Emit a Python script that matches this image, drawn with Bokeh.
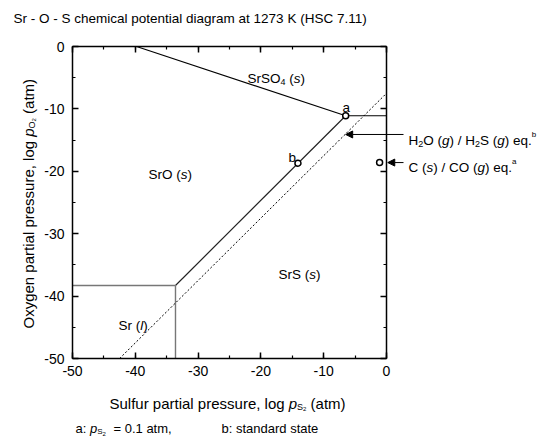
from bokeh.plotting import figure
from bokeh.models import (Label, Arrow, NormalHead, LinearAxis, SingleIntervalTicker, Range1d,
                          CustomJSTickFormatter)
from bokeh.embed import file_html
from bokeh.resources import INLINE
import math

# ---------------- data (log units) ----------------
x_range_vals = [-50, 0]
y_range_vals = [-50, 0]
tick_interval = 10

# phase boundaries: log pS2, log pO2
srso4_sro_x = [-39.8, -6.5]
srso4_sro_y = [0.0, -11.1]
srso4_srs_x = [-6.5, 0.0]
srso4_srs_y = [-11.1, -11.1]
sro_srs_x = [-6.5, -33.6]
sro_srs_y = [-11.1, -38.3]
sr_sro_x = [-50.0, -33.6]
sr_sro_y = [-38.3, -38.3]
sr_srs_x = [-33.6, -33.6]
sr_srs_y = [-38.3, -50.0]
h2o_h2s_x = [-42.5, 0.0]
h2o_h2s_y = [-50.0, -7.5]

point_names = ["a", "b"]
point_x = [-6.5, -14.1]
point_y = [-11.1, -18.7]

h2s_eq_point = (-6.6, -14.1)
c_co_x = [-1.1]
c_co_y = [-18.6]

FONT = "Liberation Sans"

# ---------------- geometry helpers ----------------
W, H = 545, 447
FX0, FX1 = 72, 386     # chart box in page pixels
FY0, FY1 = 46, 358
SX = (FX1 - FX0) / (x_range_vals[1] - x_range_vals[0])
SY = (FY1 - FY0) / (y_range_vals[1] - y_range_vals[0])

def px2x(px):
    return x_range_vals[0] + (px - FX0) / SX

def py2y(py):
    return y_range_vals[1] - (py - FY0) / SY

AW = {' ': 278, '!': 278, '(': 333, ')': 333, ',': 278, '-': 333, '.': 278, '/': 278,
      ':': 278, '=': 584}
for d in "0123456789":
    AW[d] = 556
AW.update({'A': 667, 'B': 667, 'C': 722, 'D': 722, 'E': 667, 'F': 611, 'G': 778, 'H': 722,
           'I': 278, 'J': 500, 'K': 667, 'L': 556, 'M': 833, 'N': 722, 'O': 778, 'P': 667,
           'Q': 778, 'R': 722, 'S': 667, 'T': 611, 'U': 722, 'V': 667, 'W': 944, 'X': 667,
           'Y': 667, 'Z': 611,
           'a': 556, 'b': 556, 'c': 500, 'd': 556, 'e': 556, 'f': 278, 'g': 556, 'h': 556,
           'i': 222, 'j': 222, 'k': 500, 'l': 222, 'm': 833, 'n': 556, 'o': 556, 'p': 556,
           'q': 556, 'r': 333, 's': 500, 't': 278, 'u': 556, 'v': 500, 'w': 722, 'x': 500,
           'y': 500, 'z': 500})

def tw(s, size):
    return sum(AW.get(c, 556) for c in s) * size / 1000.0

def rich(p, segs, x_px, base_px, rotated=False):
    """segs: (text, size, style, dy) ; dy>0 lowers (subscript)."""
    pos = base_px if rotated else x_px
    for text, size, style, dy in segs:
        lead = len(text) - len(text.lstrip(" "))
        shift = tw(" " * lead, size)
        body = text.strip(" ")
        start = pos - shift if rotated else pos + shift
        if body:
            if rotated:
                lx, ly, ang = x_px + dy, start, math.pi / 2
            else:
                lx, ly, ang = start, base_px + dy, 0
            p.add_layout(Label(x=px2x(lx), y=py2y(ly), text=body, text_font=FONT,
                               text_font_size=f"{size}px", text_font_style=style,
                               text_color="black", text_align="left",
                               text_baseline="alphabetic", angle=ang))
        if rotated:
            pos -= tw(text, size)
        else:
            pos += tw(text, size)

# ---------------- figure: frame spans the page, axes fixed on the chart box ----------------
p = figure(frame_width=W, frame_height=H,
           min_border_left=0, min_border_right=0, min_border_top=0, min_border_bottom=0,
           x_range=Range1d(px2x(0), px2x(W)), y_range=Range1d(py2y(H), py2y(0)),
           x_axis_type=None, y_axis_type=None,
           output_backend="svg", toolbar_location=None, title=None)
p.grid.visible = False
p.outline_line_color = None
p.background_fill_color = "white"
p.border_fill_color = "white"

fmt = CustomJSTickFormatter(code="return tick.toFixed(0);")

def make_axis(labels, loc, bounds):
    ax = LinearAxis(fixed_location=loc, bounds=bounds, formatter=fmt)
    ax.ticker = SingleIntervalTicker(interval=tick_interval, num_minor_ticks=2)
    ax.major_tick_in = 6
    ax.major_tick_out = 0
    ax.minor_tick_in = 3
    ax.minor_tick_out = 0
    ax.axis_line_width = 1.5
    ax.major_tick_line_width = 1.5
    ax.minor_tick_line_width = 1.2
    ax.axis_line_color = "black"
    ax.major_tick_line_color = "black"
    ax.minor_tick_line_color = "black"
    ax.major_label_text_font = FONT
    ax.major_label_text_font_size = "14px"
    ax.major_label_text_color = "black" if labels else None
    return ax

bottom = make_axis(True, y_range_vals[0], tuple(x_range_vals))
bottom.major_label_standoff = 7
left = make_axis(True, x_range_vals[0], tuple(y_range_vals))
left.major_label_standoff = 8
top = make_axis(False, y_range_vals[1], tuple(x_range_vals))
right = make_axis(False, x_range_vals[1], tuple(y_range_vals))
p.add_layout(bottom, "below")
p.add_layout(left, "left")
p.add_layout(top, "above")
p.add_layout(right, "right")

# boundaries
p.line(srso4_sro_x, srso4_sro_y, line_color="black", line_width=1.2)
p.line(srso4_srs_x, srso4_srs_y, line_color="black", line_width=1.2)
p.line(sro_srs_x, sro_srs_y, line_color="#222222", line_width=1.2)
p.line(sr_sro_x, sr_sro_y, line_color="#777777", line_width=1.4)
p.line(sr_srs_x, sr_srs_y, line_color="#777777", line_width=1.4)
p.line(h2o_h2s_x, h2o_h2s_y, line_color="black", line_width=1, line_dash="2 2")

# points
p.scatter(point_x, point_y, marker="circle", size=6, fill_color="white",
          line_color="black", line_width=1.5)
p.scatter(c_co_x, c_co_y, marker="circle", size=6, fill_color="white",
          line_color="black", line_width=1.5)

# arrows
p.add_layout(Arrow(end=NormalHead(size=7, fill_color="black", line_color="black"),
                   x_start=px2x(403), y_start=h2s_eq_point[1],
                   x_end=h2s_eq_point[0] + 0.1, y_end=h2s_eq_point[1],
                   line_color="black", line_width=1))
p.add_layout(Arrow(end=NormalHead(size=7, fill_color="black", line_color="black"),
                   x_start=px2x(403), y_start=c_co_y[0],
                   x_end=0.2, y_end=c_co_y[0],
                   line_color="black", line_width=1))

# ---------------- texts ----------------
N, I = "normal", "italic"
rich(p, [("Sr - O - S chemical potential diagram at 1273 K (HSC 7.11)", 13.5, N, 0)], 13, 18)

rich(p, [("Oxygen partial pressure, log ", 15, N, 0), ("p", 15, I, 0),
         ("O", 9, N, 3), ("2", 6, N, 5), (" (atm)", 15, N, 0)], 28, 328, rotated=True)
rich(p, [("Sulfur partial pressure, log ", 15, N, 0), ("p", 15, I, 0),
         ("S", 9, N, 3), ("2", 6, N, 5), (" (atm)", 15, N, 0)], 109, 403)

rich(p, [("a: ", 13, N, 0), ("p", 13, I, 0), ("S", 8, N, 3), ("2", 6, N, 5)], 75, 428)
rich(p, [("= 0.1 atm,", 13, N, 0)], 113, 428)
rich(p, [("b: standard state", 13, N, 0)], 221, 428)

rich(p, [("H", 13.5, N, 0), ("2", 9, N, 3), ("O (", 13.5, N, 0), ("g", 13.5, I, 0),
         (") / H", 13.5, N, 0), ("2", 9, N, 3), ("S (", 13.5, N, 0), ("g", 13.5, I, 0),
         (") eq.", 13.5, N, 0), ("b", 8, N, -6)], 408, 140)
rich(p, [("C (", 13.5, N, 0), ("s", 13.5, I, 0), (") / CO (", 13.5, N, 0),
         ("g", 13.5, I, 0), (") eq.", 13.5, N, 0), ("a", 8, N, -6)], 408, 167)

rich(p, [("SrSO", 13.5, N, 0), ("4", 9, N, 3), (" (", 13.5, N, 0), ("s", 13.5, I, 0),
         (")", 13.5, N, 0)], 247, 78)
rich(p, [("SrO (", 13.5, N, 0), ("s", 13.5, I, 0), (")", 13.5, N, 0)], 148, 174)
rich(p, [("SrS (", 13.5, N, 0), ("s", 13.5, I, 0), (")", 13.5, N, 0)], 278, 274)
rich(p, [("Sr (", 13.5, N, 0), ("l", 13.5, I, 0), (")", 13.5, N, 0)], 118, 325)
rich(p, [(point_names[0], 13.5, N, 0)], 342, 107)
rich(p, [(point_names[1], 13.5, N, 0)], 288, 157)

open("out.html", "w").write(file_html(p, INLINE))
